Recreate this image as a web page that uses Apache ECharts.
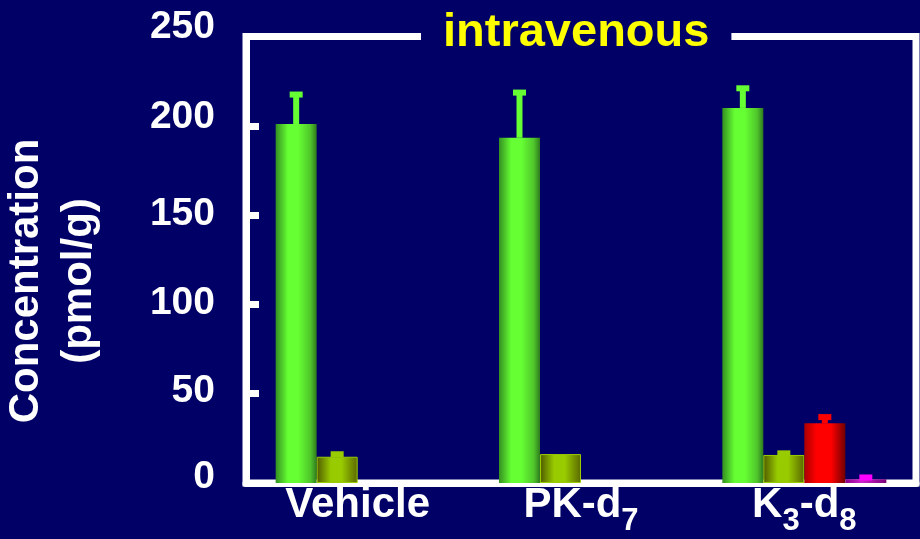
<!DOCTYPE html>
<html>
<head>
<meta charset="utf-8">
<script src="https://cdn.jsdelivr.net/npm/echarts@6/dist/echarts.min.js"></script>
<style>
  html, body { margin: 0; padding: 0; background: #000066; }
  #chart { width: 920px; height: 539px; }
</style>
</head>
<body>
<div id="chart"></div>
<script>
// Treatment groups (x categories) and their rich-text labels with subscripts
const categories = ['Vehicle', 'PK-d7', 'K3-d8'];
const categoryLabels = ['{m|Vehicle}', '{m|PK-d}{s|7}', '{m|K}{s|3}{m|-d}{s|8}'];

// Measured concentrations (pmol/g) and their error bars, one array per analyte
const greenValues   = [201, 193.3, 210];
const greenErrors   = [16.5, 25.3, 11];
const oliveValues   = [14.7, 16.2, 15.7];
const oliveErrors   = [1.4, 0, 0.9];
const redValues     = [0, 0, 33.4];
const redErrors     = [0, 0, 3.5];
const magentaValues = [0, 0, 2.1];
const magentaErrors = [0, 0, 1];

// Y axis scale
const yMin = 0;
const yMax = 250;
const yStep = 50;

const titleText = 'intravenous';
const yTitleLines = ['Concentration', '(pmol/g)'];

// ---- styling ----
const FONT = '"Liberation Sans", Arial, Helvetica, sans-serif';
const NAVY = '#000066';
const BAR_W = 41;

function cylinder(stops) {
  return new echarts.graphic.LinearGradient(0, 0, 1, 0,
    stops.map(s => ({ offset: s[0], color: s[1] })));
}

const palette = [
  { fill: cylinder([[0, '#348f22'], [0.3, '#66ff33'], [0.55, '#66ff33'], [0.85, '#4fc52b'], [1, '#2e7a1e']]), cap: '#66ff33', border: null },
  { fill: cylinder([[0, '#4f5a00'], [0.35, '#99cc00'], [0.6, '#99cc00'], [1, '#5a6800']]), cap: '#99cc00', border: '#99cc00' },
  { fill: cylinder([[0, '#aa0000'], [0.3, '#ff0000'], [0.65, '#ff0000'], [1, '#700000']]), cap: '#ff0000', border: null },
  { fill: cylinder([[0, '#880088'], [0.4, '#cc22cc'], [1, '#7a007a']]), cap: '#ff00ff', border: null }
];

const seriesData = [
  { name: 'A', values: greenValues,   errors: greenErrors },
  { name: 'B', values: oliveValues,   errors: oliveErrors },
  { name: 'C', values: redValues,     errors: redErrors },
  { name: 'D', values: magentaValues, errors: magentaErrors }
];

// vertical lift (px) applied to individual y tick labels
const yLabelLift = { 250: 9, 200: 9, 150: 1, 100: 1, 50: 2, 0: 6 };
const yRich = {};
[0, 1, 2, 6, 9].forEach(l => {
  yRich['l' + l] = {
    color: '#fff', fontSize: 39, fontWeight: 'bold', fontFamily: FONT,
    padding: [0, 0, 2 * l, 0]
  };
});

const barSeries = seriesData.map((s, i) => ({
  type: 'bar',
  name: s.name,
  data: s.values,
  barWidth: BAR_W,
  barGap: '0%',
  z: 2,
  itemStyle: {
    color: palette[i].fill,
    borderColor: palette[i].border || 'transparent',
    borderWidth: palette[i].border ? 1 : 0
  },
  emphasis: { disabled: true }
}));

const errorSeries = seriesData.map((s, i) => ({
  type: 'custom',
  name: s.name + ' error',
  z: 4,
  encode: { x: 0, y: [1, 2] },
  data: s.values.map((v, k) => [k, v, v + s.errors[k]]),
  renderItem(params, api) {
    const k = api.value(0);
    const lo = api.value(1);
    const hi = api.value(2);
    if (!(hi > lo)) return null;
    const base = api.coord([k, lo]);
    const top = api.coord([k, hi]);
    const cx = base[0] + (i - 1.5) * BAR_W;
    const color = palette[i].cap;
    return {
      type: 'group',
      children: [
        { type: 'rect', shape: { x: cx - 3, y: top[1], width: 6, height: base[1] - top[1] }, style: { fill: color } },
        { type: 'rect', shape: { x: cx - 6.5, y: top[1] - 3, width: 13, height: 6 }, style: { fill: color } }
      ]
    };
  }
}));

const chart = echarts.init(document.getElementById('chart'), null, { renderer: 'canvas' });

chart.setOption({
  backgroundColor: NAVY,
  animation: false,
  title: {
    text: titleText,
    left: 421,
    top: 6,
    padding: [4, 22],
    backgroundColor: NAVY,
    textStyle: { color: '#ffff00', fontSize: 47, fontWeight: 'bold', fontFamily: FONT }
  },
  grid: {
    left: 246, right: 4, top: 36.5, bottom: 56,
    show: true,
    borderColor: '#ffffff',
    borderWidth: 7,
    backgroundColor: 'transparent'
  },
  graphic: [{
    type: 'text',
    x: 53,
    y: 281,
    rotation: Math.PI / 2,
    style: {
      text: yTitleLines.join('\n'),
      fill: '#ffffff',
      font: 'bold 42px ' + FONT,
      lineHeight: 53,
      align: 'center',
      verticalAlign: 'middle'
    }
  }],
  xAxis: {
    type: 'category',
    data: categories,
    axisLine: { show: true, lineStyle: { color: '#ffffff', width: 7 } },
    axisTick: { show: false },
    axisLabel: {
      margin: 0,
      interval: 0,
      formatter: (v, idx) => categoryLabels[idx],
      rich: {
        m: { color: '#fff', fontSize: 42, fontWeight: 'bold', fontFamily: FONT, lineHeight: 44 },
        s: { color: '#fff', fontSize: 31, fontWeight: 'bold', fontFamily: FONT, lineHeight: 44, padding: [32, 0, 0, 0] }
      }
    },
    splitLine: { show: false }
  },
  yAxis: {
    type: 'value',
    min: yMin,
    max: yMax,
    interval: yStep,
    axisLine: { show: true, lineStyle: { color: '#ffffff', width: 7 } },
    axisTick: { show: true, inside: true, length: 13, lineStyle: { color: '#ffffff', width: 7 } },
    axisLabel: {
      margin: 31,
      formatter: v => '{l' + (yLabelLift[v] || 0) + '|' + v + '}',
      rich: yRich
    },
    splitLine: { show: false }
  },
  series: barSeries.concat(errorSeries)
});
</script>
</body>
</html>
